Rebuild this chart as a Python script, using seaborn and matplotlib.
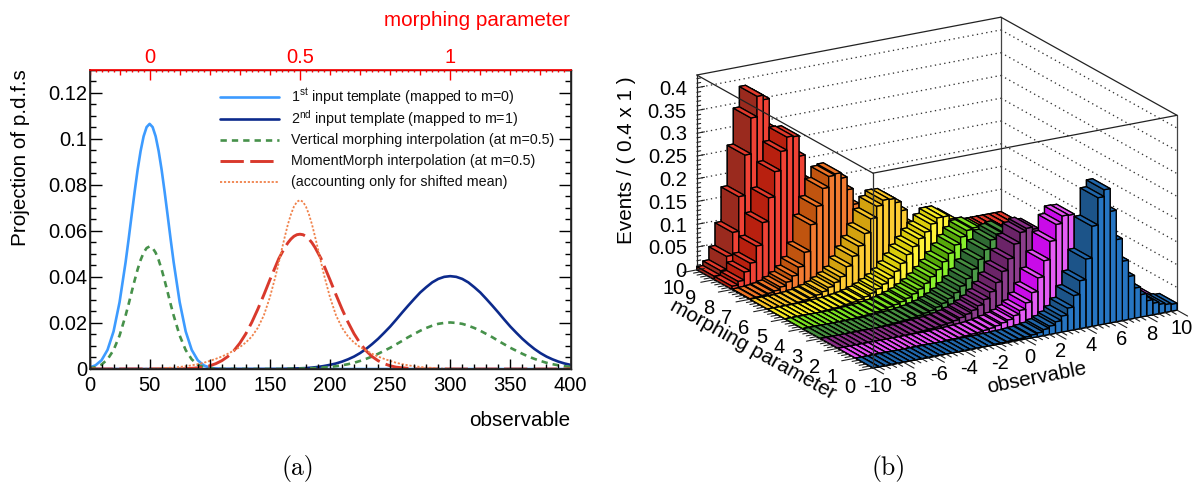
import numpy as np
import seaborn as sns
import matplotlib
matplotlib.use('Agg')
import matplotlib.pyplot as plt
from mpl_toolkits.mplot3d import proj3d

# ---- left panel: projections, every 5 units of observable ----
obs = list(np.arange(0, 405, 5))
template_1 = [.0006, .0016, .0038, .0083, .0163, .0290, .0463, .0666, .0864, .1010, .1064, .1010, .0864, .0666,
              .0463, .0290, .0163, .0083, .0038, .0016, .0006, .0002] + [0] * 59
template_2 = [0] * 33 + [.0001, .0002, .0003, .0004, .0006, .0009, .0013, .0018, .0024, .0032, .0042, .0054, .0069,
                         .0087, .0108, .0131, .0157, .0184, .0214, .0245, .0275, .0304, .0332, .0355, .0376, .0391,
                         .0400, .0403, .0400, .0391, .0376, .0355, .0332, .0304, .0275, .0245, .0214, .0184, .0157,
                         .0131, .0108, .0087, .0069, .0054, .0042, .0032, .0024, .0018]
vertical = [.0003, .0008, .0019, .0042, .0082, .0145, .0232, .0333, .0432, .0505, .0532, .0505, .0432, .0333,
            .0232, .0145, .0082, .0042, .0019, .0008, .0003, .0001] + [0] * 11 + \
           [.0001, .0001, .0002, .0002, .0003, .0005, .0007, .0009, .0012, .0016, .0021, .0027, .0035, .0044, .0054,
            .0066, .0079, .0092, .0107, .0122, .0138, .0152, .0166, .0178, .0188, .0196, .0200, .0202, .0200, .0196,
            .0188, .0178, .0166, .0152, .0138, .0122, .0107, .0092, .0079, .0066, .0054, .0044, .0035, .0027, .0021,
            .0016, .0012, .0009]
moment = [0] * 16 + [.0001, .0003, .0005, .0008, .0014, .0023, .0036, .0054, .0079, .0112, .0153, .0203, .0260, .0322,
                     .0387, .0449, .0504, .0548, .0576, .0585, .0576, .0548, .0504, .0449, .0387, .0322, .0260, .0203,
                     .0153, .0112, .0079, .0054, .0036, .0023, .0014, .0008, .0005, .0003, .0001] + [0] * 26
shifted = [0] * 9 + [.0001, .0002, .0002, .0003, .0005, .0006, .0009, .0012, .0016, .0021, .0027, .0035, .0044, .0054,
                     .0066, .0080, .0095, .0115, .0141, .0179, .0233, .0311, .0409, .0521, .0628, .0705, .0733, .0705,
                     .0628, .0521, .0409, .0311, .0233, .0179, .0141, .0115, .0095, .0080, .0066, .0054, .0044, .0035,
                     .0027, .0021, .0016, .0012, .0009, .0006, .0005, .0003, .0002, .0002, .0001] + [0] * 19

# extra readings around the peaks
obs_left_peak = [32.5, 37.5, 42.5, 47.5, 52.5, 57.5, 62.5, 67.5]
template_1_peak = [.0562, .0768, .0946, .1050, .1050, .0946, .0768, .0562]
vertical_peak = [.0281, .0384, .0473, .0525, .0525, .0473, .0384, .0281]
obs_mid_peak = [157.5, 162.5, 167.5, 172.5, 177.5, 182.5, 187.5, 192.5]
moment_peak = [.0480, .0528, .0564, .0583, .0583, .0564, .0528, .0480]
shifted_peak = [.0464, .0576, .0671, .0726, .0726, .0671, .0576, .0464]

curve_labels = [r'1$^{\mathrm{st}}$ input template (mapped to m=0)',
                r'2$^{\mathrm{nd}}$ input template (mapped to m=1)',
                'Vertical morphing interpolation (at m=0.5)',
                'MomentMorph interpolation (at m=0.5)',
                '(accounting only for shifted mean)']
x_ticks = [0, 50, 100, 150, 200, 250, 300, 350, 400]
y_ticks = [0, 0.02, 0.04, 0.06, 0.08, 0.1, 0.12]
y_tick_labels = ['0', '0.02', '0.04', '0.06', '0.08', '0.1', '0.12']
m_ticks = [0, 0.5, 1]
m_tick_labels = ['0', '0.5', '1']

# ---- right panel: one row per morphing bin (0 = front), 50 bins of observable ----
row_0 = [0] * 20 + [.001, .001, .002, .002, .003, .004, .006, .008, .013, .018, .025, .035, .05, .075, .105, .15, .22,
                    .28, .295, .245, .18, .13, .094, .066, .049, .033, .025, .02, .017, .015]
row_1 = [0] * 15 + [.001, .001, .002, .003, .004, .005, .007, .009, .012, .016, .02, .027, .036, .05, .07, .10, .135,
                    .175, .21, .226, .225, .20, .165, .125, .09, .063, .044, .03, .021, .015, .011, .008, .006, .005,
                    .004]
row_2 = [0] * 12 + [.001, .002, .003, .004, .005, .007, .009, .012, .016, .021, .027, .035, .046, .06, .078, .10, .125,
                    .155, .178, .185, .18, .16, .13, .10, .075, .053, .037, .026, .018, .012, .008, .005, .004, .003,
                    .002, .001, .001, .001]
row_3 = [0] * 10 + [.001, .002, .003, .004, .005, .007, .009, .012, .015, .02, .026, .034, .044, .056, .07, .088, .107,
                    .126, .145, .155, .158, .15, .13, .107, .085, .063, .047, .034, .024, .016, .011, .007, .005, .003,
                    .002, .001, .001, .001, 0, 0]
row_4 = [0] * 8 + [.001, .002, .003, .004, .006, .008, .011, .014, .018, .023, .03, .038, .048, .06, .073, .088, .104,
                   .12, .135, .147, .15, .145, .13, .11, .09, .07, .052, .038, .027, .018, .012, .008, .005, .003,
                   .002, .001, .001, .001, 0, 0, 0, 0]
row_5 = [0] * 6 + [.001, .002, .003, .004, .006, .008, .011, .015, .02, .027, .035, .045, .058, .073, .09, .105, .12,
                   .132, .147, .158, .158, .15, .13, .105, .08, .055, .038, .025, .016, .01, .006, .004, .002, .001,
                   .001, .001, 0, 0, 0, 0, 0, 0, 0, 0]
row_6 = [0] * 4 + [.001, .002, .004, .007, .01, .015, .022, .03, .04, .06, .08, .10, .125, .155, .18, .191, .19, .18,
                   .16, .13, .10, .07, .048, .032, .02, .012, .008, .005, .003, .002, .001, .001] + [0] * 14
row_7 = [.001, .002, .003, .005, .008, .014, .022, .033, .05, .08, .138, .176, .213, .237, .24, .228, .20, .165, .125,
         .09, .062, .04, .026, .016, .01, .006, .004, .002, .001, .001] + [0] * 20
row_8 = [.007, .015, .033, .05, .085, .134, .186, .241, .283, .312, .31, .265, .21, .155, .105, .07, .045, .03, .018,
         .012, .008, .005, .003, .002, .001, .001] + [.001] * 24
row_9 = [.007, .017, .046, .096, .172, .261, .34, .385, .375, .31, .24, .165, .105, .062, .035, .02, .012, .008, .005,
         .003, .002, .001] + [.001] * 28
# bright front face, dark side face, top face of every row
row_colors = [('#2675c2', '#1c5489', '#2066ab'), ('#e45cf5', '#c90be8', '#e44ff2'), ('#8c3d8c', '#6b2468', '#8a2f88'),
              ('#4c9a48', '#2f6a33', '#47903f'), ('#88f02c', '#56a80a', '#7ce020'), ('#fff236', '#d9cc0a', '#f6ea22'),
              ('#fdcb32', '#d3a20f', '#f8c326'), ('#f27a30', '#c0540f', '#ee7426'), ('#ef4235', '#b8200f', '#e23a2c'),
              ('#ef4235', '#9a2a1e', '#e23a2c')]
rows = [row_0, row_1, row_2, row_3, row_4, row_5, row_6, row_7, row_8, row_9]
obs_edges = np.linspace(-10, 10, 51)
z_ticks = [0, .05, .1, .15, .2, .25, .3, .35, .4]
z_tick_labels = ['0', '0.05', '0.1', '0.15', '0.2', '0.25', '0.3', '0.35', '0.4']
obs_ticks = [-10, -8, -6, -4, -2, 0, 2, 4, 6, 8, 10]
morph_ticks = [0, 1, 2, 3, 4, 5, 6, 7, 8, 9, 10]

sns.set_theme(style='ticks')
plt.rcParams['font.family'] = ['Liberation Sans', 'DejaVu Sans']
plt.rcParams['mathtext.fontset'] = 'custom'
plt.rcParams['mathtext.rm'] = 'Liberation Sans'
plt.rcParams['text.color'] = 'black'
W, H = 1194, 484
FS = 14.5
LFS = 14.9
fig = plt.figure(figsize=(W / 100, H / 100), dpi=100)


def px_box(left, top, right, bottom):
    return [left / W, 1 - bottom / H, (right - left) / W, (bottom - top) / H]


# ---- panel (a) ----
L, T, R, B = 89.5, 69.5, 570.5, 369
ax = fig.add_axes(px_box(L, T, R, B))
curve_styles = [('#3d9bff', 1.9, '-'), ('#0c2a8c', 1.9, '-'), ('#46914a', 1.9, (0, (2.4, 1.9))),
                ('#d9392c', 2.1, (0, (8, 2.2))), ('#f0814a', 1.3, (0, (1.2, 1.0)))]
curves = [(obs + obs_left_peak, template_1 + template_1_peak), (obs, template_2),
          (obs + obs_left_peak, vertical + vertical_peak), (obs + obs_mid_peak, moment + moment_peak),
          (obs + obs_mid_peak, shifted + shifted_peak)]
for (xs, ys), (col, lw, ls) in zip(curves, curve_styles):
    sns.lineplot(x=xs, y=ys, color=col, lw=lw, linestyle=ls, ax=ax, legend=False)
ax.set_xlim(0, 400)
ax.set_ylim(0, 0.13)
ax.set_xticks(x_ticks)
ax.set_yticks(y_ticks)
ax.set_yticklabels(y_tick_labels)
ax.tick_params(axis='x', length=0, labelsize=FS, pad=5, labelcolor='black')
ax.tick_params(axis='y', length=0, labelsize=FS, pad=1.5, labelcolor='black')
for s in ax.spines.values():
    s.set_linewidth(1)
    s.set_color('black')

# inward ticks, long on the labelled values
h_ax, w_ax = B - T, R - L
for v in np.arange(0, 401, 10):
    ax.vlines(v, 0, (10 if v % 50 == 0 else 5) / h_ax, transform=ax.get_xaxis_transform(), color='black', lw=1)
for i in range(27):
    size = (12 if i % 4 == 0 else 6) / w_ax
    ax.hlines(i * 0.005, 0, size, transform=ax.get_yaxis_transform(), color='black', lw=1)
    ax.hlines(i * 0.005, 1 - size, 1, transform=ax.get_yaxis_transform(), color='black', lw=1)

# key, one row per curve
key_rows = [97, 119, 140, 161, 182]
for lab, row_y, (col, lw, ls) in zip(curve_labels, key_rows, curve_styles):
    ya = (B - row_y) / h_ax
    ax.plot([(220 - L) / w_ax, (279 - L) / w_ax], [ya, ya], transform=ax.transAxes, color=col, lw=lw, ls=ls)
    ax.text((291 - L) / w_ax, ya, lab, transform=ax.transAxes, fontsize=10.3, va='center', ha='left', color='#111111')

top = ax.twiny()
top.set_xlim(-0.2, 1.4)
top.set_xticks(m_ticks)
top.set_xticklabels(m_tick_labels)
top.tick_params(axis='x', length=0, labelsize=FS, pad=2, labelcolor='red')
for i in range(81):
    v = -0.2 + i * 0.02
    size = 10 if i % 25 == 10 else (5 if i % 5 == 0 else 2.5)
    top.vlines(v, 1 - size / h_ax, 1, transform=top.get_xaxis_transform(), color='red', lw=1)
top.spines['top'].set_color('red')
top.spines['top'].set_linewidth(1.2)

fig.text(570 / W, 1 - 420 / H, 'observable', ha='right', va='center', fontsize=LFS)
fig.text(570 / W, 1 - 20 / H, 'morphing parameter', ha='right', va='center', fontsize=LFS, color='red')
fig.text(21 / W, 1 - 158 / H, 'Projection of p.d.f.s', rotation=90, ha='center', va='center', fontsize=LFS)
fig.text(298 / W, 1 - 469 / H, '(a)', ha='center', va='center', fontsize=18.5, family='cmr10')

# ---- panel (b) ----
ax3 = fig.add_axes([0.5, 0, 0.45, 1], projection='3d', proj_type='ortho')
ax3.computed_zorder = False
ax3.set_box_aspect((352, 349, 206))
ax3.view_init(elev=19, azim=-120.3)
ax3.set_xlim(-10, 10, view_margin=0)
ax3.set_ylim(0, 10, view_margin=0)
ax3.set_zlim(0, 0.428, view_margin=0)
ax3.set_axis_off()
ax3.patch.set_alpha(0)


def to_px(x, y, z):
    ax3.apply_aspect()
    xs, ys, _ = proj3d.proj_transform(x, y, z, ax3.get_proj())
    return ax3.transData.transform((xs, ys))


# line the box corners up with the picture: front corner and right corner
front_t, right_t = np.array([873, H - 368]), np.array([1177, H - 310])
size = 500.0
ax3.set_position([300 / W, 0, size / W, size / H])
a, b = to_px(-10, 0, 0), to_px(10, 0, 0)
size *= np.linalg.norm(right_t - front_t) / np.linalg.norm(b - a)
ax3.set_position([300 / W, 0, size / W, size / H])
shift = front_t - to_px(-10, 0, 0)
ax3.set_position([(300 + shift[0]) / W, shift[1] / H, size / W, size / H])

FRAME = '#222222'
order = 10
# back walls and grid
for z in z_ticks:
    ax3.plot([-10, 10], [10, 10], [z, z], color='#333333', lw=0.95, ls=(0, (1, 2.6)), zorder=order)
    ax3.plot([10, 10], [10, 0], [z, z], color='#333333', lw=0.95, ls=(0, (1, 2.6)), zorder=order)
ax3.plot([10, 10], [10, 10], [0, 0.428], color='#444444', lw=0.9, zorder=order)
ax3.plot([-10, 10], [10, 10], [0.428, 0.428], color=FRAME, lw=0.9, zorder=order)
ax3.plot([10, 10], [10, 0], [0.428, 0.428], color=FRAME, lw=0.9, zorder=order)
ax3.plot([10, 10], [0, 0], [0, 0.428], color='#444444', lw=0.9, zorder=order)
ax3.plot([-10, -10], [10, 10], [0, 0.428], color=FRAME, lw=0.9, zorder=order)

# bars, far ones first
dx = obs_edges[1] - obs_edges[0]
for r in range(9, -1, -1):
    bright, dark, top_c = row_colors[r]
    face_colors = [top_c, top_c, bright, bright, dark, bright]
    for i in range(49, -1, -1):
        order += 1
        ax3.bar3d(obs_edges[i], r, 0, dx, 1, rows[r][i], color=face_colors, edgecolor='black', linewidth=0.95,
                  shade=False, zorder=order)

# front frame on top of the bars
order += 1
ax3.plot([-10, -10], [0, 0], [0, 0.428], color='#333333', lw=0.9, zorder=order)
ax3.plot([-10, 10], [0, 0], [0.428, 0.428], color=FRAME, lw=0.9, zorder=order)
ax3.plot([-10, -10], [0, 10], [0.428, 0.428], color=FRAME, lw=0.9, zorder=order)

# axis ticks
for k in range(51):
    ax3.plot([-10 + k * 0.4] * 2, [0, -0.6 if k % 5 == 0 else -0.3], [0, 0], color=FRAME, lw=0.8, zorder=order)
    ax3.plot([-10, -10.9 if k % 5 == 0 else -10.45], [k * 0.2] * 2, [0, 0], color=FRAME, lw=0.8, zorder=order)
for k in range(43):
    ax3.plot([-10, -9.5 if k % 5 == 0 else -9.75], [10, 10], [k * 0.01] * 2, color=FRAME, lw=0.8, zorder=order)


def label_at(x, y, z, s, **kw):
    p = to_px(x, y, z)
    fig.text(p[0] / W, p[1] / H, s, va='center', fontsize=FS, **kw)


for v in obs_ticks:
    label_at(v, -0.28, -0.034, str(v), ha='center')
for v in morph_ticks:
    label_at(-11.55, v, -0.032, str(v), ha='center')
for z, lab in zip(z_ticks, z_tick_labels):
    label_at(-10, 10.57, z - 0.016, lab, ha='right')

fig.text(1037 / W, 1 - 378 / H, 'observable', rotation=11, ha='center', va='center', fontsize=LFS)
fig.text(753 / W, 1 - 350 / H, 'morphing parameter', rotation=-29, ha='center', va='center', fontsize=LFS)
fig.text(627 / W, 1 - 160 / H, 'Events / ( 0.4 x 1 )', rotation=90, ha='center', va='center', fontsize=LFS)
fig.text(889 / W, 1 - 469 / H, '(b)', ha='center', va='center', fontsize=18.5, family='cmr10')

fig.savefig('out.png', dpi=100)
